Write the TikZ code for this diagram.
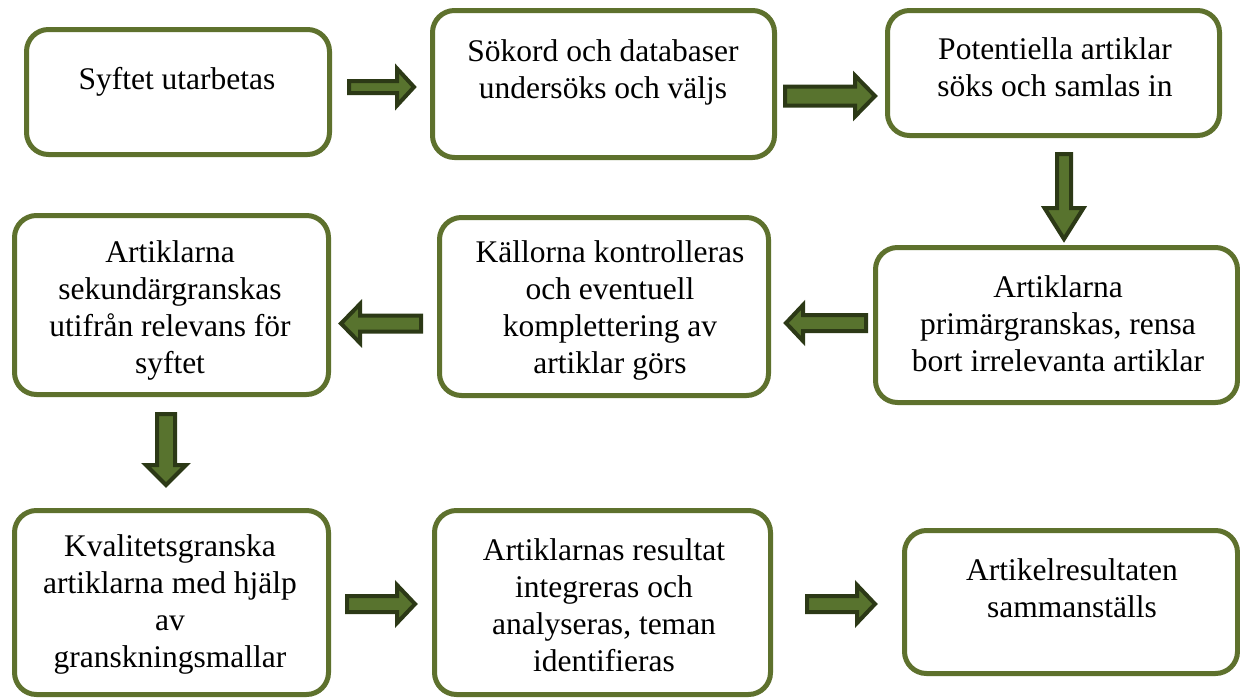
\documentclass[tikz,border=0pt]{standalone}
\usepackage{fontspec}
\setmainfont{Liberation Serif}
\definecolor{boxc}{RGB}{94,113,45}
\definecolor{arrfill}{RGB}{88,115,46}
\definecolor{arrline}{RGB}{44,57,22}
\tikzset{
  box/.style={draw=boxc, line width=5pt, rounded corners=22pt, fill=white, inner sep=0pt},
  txt/.style={align=center, inner sep=0pt, font=\fontsize{31.5}{37}\selectfont},
  barrow/.style={draw=arrline, fill=arrfill, line width=4pt, line join=miter}
}
% horizontal block arrow: tail, head base, tip, y, half shaft, half head
\newcommand\harrow[6]{\draw[barrow] ({#1},{#4-#5}) -- ({#2},{#4-#5}) -- ({#2},{#4-#6}) -- ({#3},{#4}) -- ({#2},{#4+#6}) -- ({#2},{#4+#5}) -- ({#1},{#4+#5}) -- cycle;}
% vertical block arrow: x, tail, head base, tip, half shaft, half head
\newcommand\varrow[6]{\draw[barrow] ({#1-#5},{#2}) -- ({#1-#5},{#3}) -- ({#1-#6},{#3}) -- ({#1},{#4}) -- ({#1+#6},{#3}) -- ({#1+#5},{#3}) -- ({#1+#5},{#2}) -- cycle;}
\begin{document}
\begin{tikzpicture}[x=1pt,y=-1pt]
\useasboundingbox[fill=white] (0,0) rectangle (1240,699);
% boxes
\node[box, minimum width=303pt, minimum height=125pt] (b1) at (178,92) {};
\node[box, minimum width=342pt, minimum height=147pt] (b2) at (603.5,84) {};
\node[box, minimum width=332pt, minimum height=125pt] (b3) at (1053.5,73) {};
\node[box, minimum width=362pt, minimum height=155pt] (b4) at (1056.5,325) {};
\node[box, minimum width=329pt, minimum height=178pt] (b5) at (604,306.5) {};
\node[box, minimum width=314pt, minimum height=179pt] (b6) at (171.5,305) {};
\node[box, minimum width=314pt, minimum height=184pt] (b7) at (171.5,602.5) {};
\node[box, minimum width=336pt, minimum height=184pt] (b8) at (602.5,602.5) {};
\node[box, minimum width=333pt, minimum height=143pt] (b9) at (1071,602) {};
% texts
\node[txt] (t1) at (177,82) {Syftet utarbetas};
\node[txt] (t2) at (603,72) {Sökord och databaser\\undersöks och väljs};
\node[txt] (t3) at (1055,67) {Potentiella artiklar\\söks och samlas in};
\node[txt] (t4) at (1058,323.5) {Artiklarna\\primärgranskas, rensa\\bort irrelevanta artiklar};
\node[txt] (t5) at (610,310) {Källorna kontrolleras\\och eventuell\\komplettering av\\artiklar görs};
\node[txt] (t6) at (170,310) {Artiklarna\\sekundärgranskas\\utifrån relevans för\\syftet};
\node[txt] (t7) at (170,604) {Kvalitetsgranska\\artiklarna med hjälp\\av\\granskningsmallar};
\node[txt] (t8) at (604,605) {Artiklarnas resultat\\integreras och\\analyseras, teman\\identifieras};
\node[txt] (t9) at (1072,588) {Artikelresultaten\\sammanställs};
% block arrows
\harrow{349}{397}{414}{87}{6}{18.5}
\harrow{785}{855}{875}{96}{9.5}{20.5}
\varrow{1064}{154}{208}{239}{7}{19.5}
\harrow{866}{803}{786}{323}{8}{18}
\harrow{421}{360}{341}{323.5}{8}{19.5}
\varrow{166}{414}{465}{485}{9}{20}
\harrow{347}{397}{415}{604}{8}{19}
\harrow{807}{857}{875}{604}{8}{19}
\end{tikzpicture}
\end{document}
